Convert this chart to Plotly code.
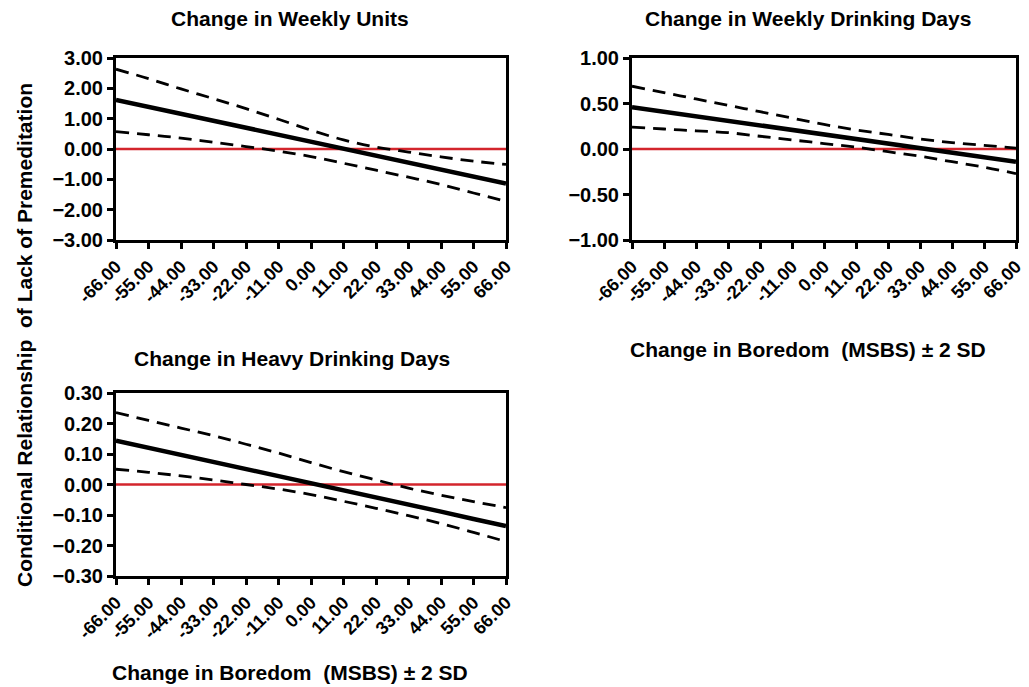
import plotly.graph_objects as go

x_vals = [-66, -55, -44, -33, -22, -11, 0, 11, 22, 33, 44, 55, 66]
x_ticktext = ["-66.00", "-55.00", "-44.00", "-33.00", "-22.00", "-11.00", "0.00",
              "11.00", "22.00", "33.00", "44.00", "55.00", "66.00"]

# Panel 1: Change in Weekly Units
units_est = [1.62, 1.39, 1.16, 0.93, 0.70, 0.47, 0.24, 0.01, -0.22, -0.45, -0.68, -0.91, -1.14]
units_upper = [2.63, 2.32, 1.98, 1.66, 1.33, 0.98, 0.62, 0.30, 0.06, -0.10, -0.26, -0.40, -0.51]
units_lower = [0.57, 0.47, 0.36, 0.22, 0.08, -0.07, -0.25, -0.47, -0.70, -0.93, -1.17, -1.45, -1.73]

# Panel 2: Change in Weekly Drinking Days
days_est = [0.46, 0.41, 0.36, 0.31, 0.26, 0.21, 0.16, 0.11, 0.06, 0.01, -0.04, -0.09, -0.14]
days_upper = [0.69, 0.62, 0.55, 0.48, 0.41, 0.34, 0.27, 0.21, 0.16, 0.11, 0.07, 0.04, 0.01]
days_lower = [0.24, 0.22, 0.20, 0.18, 0.14, 0.10, 0.06, 0.02, -0.03, -0.08, -0.14, -0.20, -0.27]

# Panel 3: Change in Heavy Drinking Days
heavy_est = [0.144, 0.121, 0.098, 0.074, 0.051, 0.027, 0.004, -0.019, -0.043, -0.066, -0.089, -0.113, -0.136]
heavy_upper = [0.236, 0.21, 0.185, 0.16, 0.132, 0.103, 0.072, 0.042, 0.015, -0.012, -0.035, -0.056, -0.076]
heavy_lower = [0.050, 0.040, 0.028, 0.015, 0.000, -0.015, -0.033, -0.055, -0.078, -0.102, -0.128, -0.157, -0.187]

zero_line = [0] * len(x_vals)

panels = [
    ("x", "y", units_est, units_upper, units_lower),
    ("x2", "y2", days_est, days_upper, days_lower),
    ("x3", "y3", heavy_est, heavy_upper, heavy_lower),
]

FONT = "Liberation Sans, Arial, sans-serif"
RED = "#d3252c"

fig = go.Figure()
for xa, ya, est, up, lo in panels:
    fig.add_trace(go.Scatter(x=x_vals, y=zero_line, xaxis=xa, yaxis=ya, mode="lines",
                             line=dict(color=RED, width=2.5), showlegend=False, hoverinfo="skip"))
    for series in (up, lo):
        fig.add_trace(go.Scatter(x=x_vals, y=series, xaxis=xa, yaxis=ya, mode="lines",
                                 line=dict(color="black", width=2.8, dash="13px,8px", shape="spline"),
                                 showlegend=False))
    fig.add_trace(go.Scatter(x=x_vals, y=est, xaxis=xa, yaxis=ya, mode="lines",
                             line=dict(color="black", width=4.5), showlegend=False))

W, H = 1029, 687

def xdom(a, b):
    return [a / W, b / W]

def ydom(top, bot):
    return [1 - bot / H, 1 - top / H]

xaxis_common = dict(range=[-66, 66], tickvals=x_vals, ticktext=x_ticktext, tickangle=-45,
                    showline=True, linecolor="black", linewidth=3, mirror=True,
                    ticks="outside", ticklen=6, tickwidth=2.5, tickcolor="black",
                    showgrid=False, zeroline=False, automargin=False,
                    ticklabeloverflow="allow",
                    tickfont=dict(family=FONT, size=18, color="black", weight="bold"))
yaxis_common = dict(showline=True, linecolor="black", linewidth=3, mirror=True,
                    ticks="outside", ticklen=6, tickwidth=2.5, tickcolor="black",
                    showgrid=False, zeroline=False, tickformat=".2f", automargin=False,
                    ticklabeloverflow="allow",
                    tickfont=dict(family=FONT, size=20, color="black", weight="bold"))

fig.update_layout(
    width=W, height=H,
    margin=dict(l=0, r=0, t=0, b=0),
    paper_bgcolor="white", plot_bgcolor="white",
    xaxis=dict(domain=xdom(116, 506), anchor="y", **xaxis_common),
    yaxis=dict(domain=ydom(58, 240), anchor="x", range=[-3, 3], tickvals=[-3, -2, -1, 0, 1, 2, 3], **yaxis_common),
    xaxis2=dict(domain=xdom(632, 1016), anchor="y2", **xaxis_common),
    yaxis2=dict(domain=ydom(58, 240), anchor="x2", range=[-1, 1], tickvals=[-1, -0.5, 0, 0.5, 1], **yaxis_common),
    xaxis3=dict(domain=xdom(116, 506), anchor="y3", **xaxis_common),
    yaxis3=dict(domain=ydom(393, 576), anchor="x3", range=[-0.3, 0.3],
                tickvals=[-0.3, -0.2, -0.1, 0, 0.1, 0.2, 0.3], **yaxis_common),
)

def ann(text, xp, yp, size, angle=0):
    fig.add_annotation(text=text, x=xp / W, y=1 - yp / H, xref="paper", yref="paper",
                       showarrow=False, textangle=angle, xanchor="center", yanchor="middle",
                       font=dict(family=FONT, size=size, color="black", weight="bold"))

ann("Change in Weekly Units", 290, 19, 21)
ann("Change in Weekly Drinking Days", 808, 19, 21)
ann("Change in Heavy Drinking Days", 292, 358, 21)
ann("Change in Boredom  (MSBS) ± 2 SD", 808, 349, 21)
ann("Change in Boredom  (MSBS) ± 2 SD", 290, 672, 21)
ann("Conditional Relationship  of Lack of Premeditation", 24, 335, 21, angle=-90)

fig.write_html("out.html", config={"displayModeBar": False},
               post_script="document.body.style.margin='0';document.body.style.overflow='hidden';")
